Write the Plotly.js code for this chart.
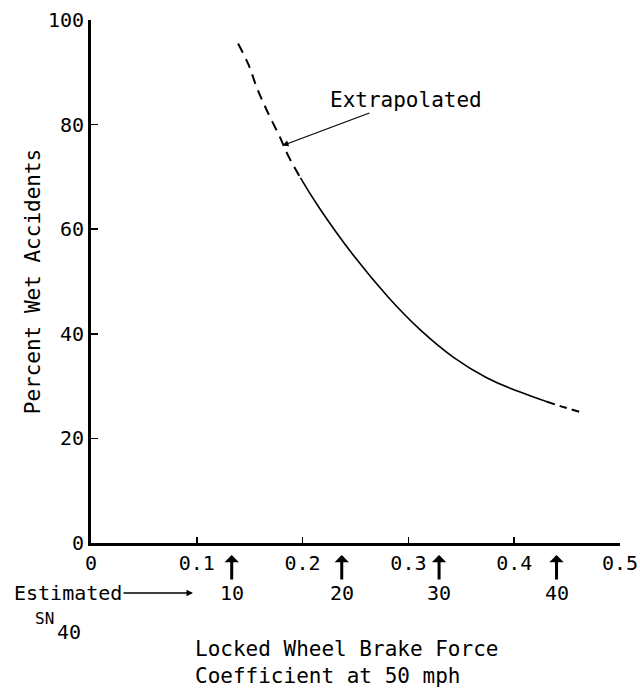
<!DOCTYPE html>
<html><head><meta charset="utf-8">
<script src="https://cdn.plot.ly/plotly-3.0.1.min.js"></script>
<style>html,body{margin:0;padding:0;background:#fff}</style>
</head><body><div id="chart" style="width:640px;height:688px"></div>
<script>
// Extrapolated upper part (dashed)
const upperX = [0.139, 0.149, 0.157, 0.166, 0.179, 0.186, 0.198];
const upperY = [95.5, 91.4, 86.9, 82.8, 77.4, 74.2, 69.8];
// Measured part (solid)
const midX = [0.198, 0.216, 0.248, 0.281, 0.311, 0.342, 0.374, 0.405, 0.431];
const midY = [69.8, 64.0, 55.0, 47.0, 40.8, 35.6, 31.6, 28.9, 27.0];
// Extrapolated lower part (dashed)
const lowerX = [0.431, 0.448, 0.465];
const lowerY = [27.0, 25.9, 24.9];

const xTickVals = [0, 0.1, 0.2, 0.3, 0.4, 0.5];
const xTickText = ['0', '0.1', '0.2', '0.3', '0.4', '0.5'];
const yTickVals = [0, 20, 40, 60, 80, 100];
const yTickText = ['0', '20', '40', '60', '80', '100'];

const snValues = [10, 20, 30, 40];
const snCoef = [0.133, 0.237, 0.329, 0.440];

const extrapPoint = {x: 0.181, y: 76};

const FONT = 'DejaVu Sans Mono, monospace';

const traces = [
  {x: upperX, y: upperY, mode: 'lines', line: {color: '#000', width: 2, dash: '10px,7px', shape: 'spline', smoothing: 1}, hoverinfo: 'skip', showlegend: false},
  {x: midX, y: midY, mode: 'lines', line: {color: '#000', width: 1.6, shape: 'spline', smoothing: 1.3}, hoverinfo: 'skip', showlegend: false},
  {x: lowerX, y: lowerY, mode: 'lines', line: {color: '#000', width: 2, dash: '8px,5px', shape: 'spline'}, hoverinfo: 'skip', showlegend: false}
];

const annotations = [];
snValues.forEach((v, i) => {
  annotations.push({
    x: snCoef[i], xref: 'x', y: -0.023, yref: 'paper',
    text: String(v), showarrow: true, ax: 0, ay: 38,
    arrowhead: 1, arrowsize: 0.8, arrowwidth: 3, arrowcolor: '#000', standoff: 0,
    font: {family: FONT, size: 20, color: '#000'}
  });
});
annotations.push({
  x: 0.0964, xref: 'x', y: -0.0956, yref: 'paper',
  text: 'Estimated', showarrow: true, ax: -125, ay: 0,
  arrowhead: 2, arrowsize: 1, arrowwidth: 1.3, arrowcolor: '#000', standoff: 0,
  font: {family: FONT, size: 20, color: '#000'}
});
annotations.push({
  x: -0.087, xref: 'paper', y: -0.145, yref: 'paper',
  text: 'SN', showarrow: false, xanchor: 'center', yanchor: 'middle',
  font: {family: FONT, size: 16, color: '#000'}
});
annotations.push({
  x: -0.041, xref: 'paper', y: -0.170, yref: 'paper',
  text: '40', showarrow: false, xanchor: 'center', yanchor: 'middle',
  font: {family: FONT, size: 20, color: '#000'}
});
annotations.push({
  x: 0.0964, xref: 'x', y: -0.2285, yref: 'paper',
  text: 'Locked Wheel Brake Force<br>Coefficient at 50 mph', showarrow: false,
  xanchor: 'left', yanchor: 'middle', align: 'left',
  font: {family: FONT, size: 21, color: '#000'}
});
annotations.push({
  x: extrapPoint.x, xref: 'x', y: extrapPoint.y, yref: 'y',
  text: 'Extrapolated', showarrow: true, ax: 123, ay: -46,
  arrowhead: 2, arrowsize: 1, arrowwidth: 1.2, arrowcolor: '#000', standoff: 0,
  font: {family: FONT, size: 21, color: '#000'}
});

const layout = {
  width: 640, height: 688,
  margin: {l: 91, r: 20, t: 20, b: 145},
  paper_bgcolor: '#fff', plot_bgcolor: '#fff',
  font: {family: FONT, size: 20, color: '#000'},
  showlegend: false,
  xaxis: {
    range: [0, 0.5], tickvals: xTickVals, ticktext: xTickText,
    showline: true, linewidth: 3, linecolor: '#000',
    ticks: 'inside', ticklen: 6, tickwidth: 1.5, tickcolor: '#000',
    showgrid: false, zeroline: false, fixedrange: true,
    tickfont: {family: FONT, size: 20, color: '#000'}
  },
  yaxis: {
    range: [0, 100], tickvals: yTickVals, ticktext: yTickText,
    showline: true, linewidth: 3, linecolor: '#000',
    ticks: 'inside', ticklen: 7, tickwidth: 1.5, tickcolor: '#000',
    showgrid: false, zeroline: false, fixedrange: true,
    tickfont: {family: FONT, size: 20, color: '#000'},
    title: {text: 'Percent Wet Accidents', standoff: 2, font: {family: FONT, size: 21, color: '#000'}}
  },
  annotations: annotations
};

Plotly.newPlot('chart', traces, layout, {staticPlot: true, displayModeBar: false});
</script>
</body></html>
